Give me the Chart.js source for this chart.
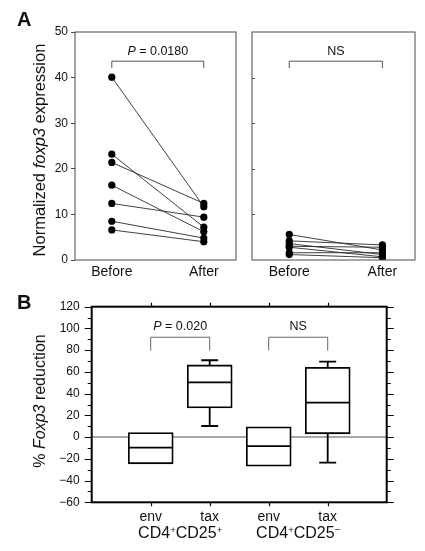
<!DOCTYPE html>
<html>
<head>
<meta charset="utf-8">
<script src="https://cdn.jsdelivr.net/npm/chart.js@4.4.1/dist/chart.umd.min.js"></script>
<style>
  body { margin: 0; background: #fff; width: 425px; height: 551px; position: relative; overflow: hidden;
         font-family: "Liberation Sans", Arial, Helvetica, sans-serif; color: #111; }
  canvas { position: absolute; }
  .lbl { position: absolute; white-space: nowrap; line-height: 1; transform: translate(-50%, -50%); }
  .vt { position: absolute; white-space: nowrap; line-height: 1; transform: translate(-50%, -50%) rotate(-90deg); }
  .panel { position: absolute; font-weight: bold; font-size: 20px; line-height: 1; }
  sup { font-size: 60%; vertical-align: 0.55em; line-height: 0; }
</style>
</head>
<body>
<canvas id="a1" width="240" height="290" style="left:0;top:0"></canvas>
<canvas id="a2" width="185" height="290" style="left:240px;top:0"></canvas>
<canvas id="b" width="425" height="271" style="left:0;top:280px"></canvas>

<div class="panel" style="left:17px;top:9px">A</div>
<div class="panel" style="left:17px;top:292px">B</div>
<div class="vt" style="left:39px;top:150px;font-size:16.5px">Normalized <i>foxp3</i> expression</div>
<div class="vt" style="left:40px;top:401px;font-size:16px">% <i>Foxp3</i> reduction</div>
<div class="lbl" id="pA1" style="font-size:12.5px"></div>
<div class="lbl" id="pA2" style="font-size:12.5px"></div>
<div class="lbl" id="pB1" style="font-size:12.5px"></div>
<div class="lbl" id="pB2" style="font-size:12.5px"></div>
<div class="lbl" id="cell1" style="font-size:16px"></div>
<div class="lbl" id="cell2" style="font-size:16px"></div>

<script>
// panel A: normalized foxp3 expression, paired before / after
const timeLabels = ['Before', 'After'];
const exprTicks = [0, 10, 20, 30, 40, 50];
const leftBefore = [40.1, 23.2, 21.4, 16.4, 12.4, 8.5, 6.6];
const leftAfter = [11.7, 7.2, 12.4, 6.2, 9.4, 4.8, 4.0];
const rightBefore = [5.6, 4.2, 3.6, 3.0, 2.8, 1.6, 1.2];
const rightAfter = [2.2, 3.3, 1.2, 2.8, 0.7, 1.6, 0.5];
const bracketA = [43.6, 42.1];           // top, leg end
const statsA = ['0.0180', 'NS'];

// panel B: % Foxp3 reduction, box plots
const boxCats = ['env', 'tax', 'env', 'tax'];
const cellTypes = [['CD4', '+', 'CD25', '+'], ['CD4', '+', 'CD25', '\u2212']];
const boxLow = [null, 10.2, null, -23.4];
const boxQ1 = [-24.6, 26.8, -26.8, 3.0];
const boxMed = [-9.6, 50.4, -8.3, 31.7];
const boxQ3 = [4.2, 66.4, 9.5, 64.2];
const boxHigh = [null, 70.7, null, 69.5];
const bracketB = [91.9, 79.6];
const statsB = ['0.020', 'NS'];

const FONT = '"Liberation Sans", Arial, Helvetica, sans-serif';

function statHtml(s) {
  return s === 'NS' ? 'NS' : '<i>P</i> = ' + s;
}

// draw a border round the plot area
const frame = {
  id: 'frame',
  afterDraw(chart, args, opts) {
    const { ctx, chartArea: a } = chart;
    ctx.save();
    ctx.strokeStyle = opts.color;
    ctx.lineWidth = opts.width;
    ctx.strokeRect(a.left, a.top, a.right - a.left, a.bottom - a.top);
    ctx.restore();
  }
};

// significance bracket + its text label (html)
const bracket = {
  id: 'bracket',
  afterDatasetsDraw(chart, args, opts) {
    const { ctx, scales: { x, y } } = chart;
    const yTop = y.getPixelForValue(opts.top);
    const yLeg = y.getPixelForValue(opts.leg);
    const off = chart.canvas.getBoundingClientRect();
    ctx.save();
    ctx.strokeStyle = opts.color;
    ctx.lineWidth = 1;
    opts.pairs.forEach((p, i) => {
      const x1 = x.getPixelForValue(p[0]);
      const x2 = x.getPixelForValue(p[1]);
      ctx.beginPath();
      ctx.moveTo(x1, yLeg);
      ctx.lineTo(x1, yTop);
      ctx.lineTo(x2, yTop);
      ctx.lineTo(x2, yLeg);
      ctx.stroke();
      const el = document.getElementById(opts.ids[i]);
      el.innerHTML = statHtml(opts.texts[i]);
      el.style.left = (off.left + (x1 + x2) / 2) + 'px';
      el.style.top = (off.top + yTop - opts.gap) + 'px';
    });
    ctx.restore();
  }
};

// short ticks pointing into the plot (right panel of A)
const innerTicks = {
  id: 'innerTicks',
  afterDraw(chart, args, opts) {
    const { ctx, chartArea: a, scales: { y } } = chart;
    ctx.save();
    ctx.strokeStyle = opts.color;
    ctx.lineWidth = 1;
    opts.values.forEach(v => {
      const py = Math.round(y.getPixelForValue(v)) + 0.5;
      ctx.beginPath();
      ctx.moveTo(a.left, py);
      ctx.lineTo(a.left + opts.len, py);
      ctx.stroke();
    });
    ctx.restore();
  }
};

function pairedSets(before, after) {
  return before.map((b, i) => ({
    data: [{ x: 1, y: b }, { x: 2, y: after[i] }],
    showLine: true,
    borderColor: '#2a2a2a',
    borderWidth: 0.9,
    pointRadius: 3.6,
    pointBackgroundColor: '#000',
    pointBorderWidth: 0
  }));
}

function pairedChart(id, before, after, showY, pad, statIdx) {
  return new Chart(document.getElementById(id), {
    type: 'scatter',
    data: { datasets: pairedSets(before, after) },
    options: {
      responsive: false,
      animation: false,
      layout: { padding: pad },
      plugins: {
        legend: { display: false },
        tooltip: { enabled: false },
        frame: { color: '#4a4a4a', width: 1 },
        bracket: { pairs: [[1, 2]], top: bracketA[0], leg: bracketA[1], color: '#555',
                   ids: [statIdx === 0 ? 'pA1' : 'pA2'], texts: [statsA[statIdx]], gap: 10 },
        innerTicks: { values: exprTicks.slice(1, -1), len: 3, color: '#555' }
      },
      scales: {
        x: {
          type: 'linear', min: 0.6, max: 2.35,
          afterBuildTicks: s => { s.ticks = [{ value: 1 }, { value: 2 }]; },
          afterFit: s => { s.height = 30; },
          ticks: { callback: v => timeLabels[v - 1], font: { family: FONT, size: 14 }, color: '#111',
                   padding: 4, maxRotation: 0, autoSkip: false },
          grid: { display: false, drawTicks: false },
          border: { display: false }
        },
        y: {
          min: 0, max: 50, display: showY,
          afterBuildTicks: s => { s.ticks = exprTicks.map(v => ({ value: v })); },
          afterFit: s => { s.width = showY ? 75 : 0; },
          ticks: { font: { family: FONT, size: 12 }, color: '#111', padding: 3 },
          grid: { drawOnChartArea: false, tickLength: 4, color: '#4a4a4a' },
          border: { display: false }
        }
      }
    },
    plugins: showY ? [frame, bracket] : [frame, bracket, innerTicks]
  });
}

pairedChart('a1', leftBefore, leftAfter, true, { top: 32, right: 2, left: 0, bottom: 0 }, 0);
pairedChart('a2', rightBefore, rightAfter, false, { top: 32, right: 10, left: 12, bottom: 0 }, 1);

// ---- panel B ----
const boxParts = {
  id: 'boxParts',
  beforeDatasetsDraw(chart) {
    // gray zero line behind the boxes
    const { ctx, chartArea: a, scales: { y } } = chart;
    const y0 = y.getPixelForValue(0);
    ctx.save();
    ctx.strokeStyle = '#8a8a8a';
    ctx.lineWidth = 1.5;
    ctx.beginPath();
    ctx.moveTo(a.left, y0);
    ctx.lineTo(a.right, y0);
    ctx.stroke();
    ctx.restore();
  },
  afterDatasetsDraw(chart, args, opts) {
    const { ctx, scales: { x, y } } = chart;
    const half = opts.boxWidth / 2;
    ctx.save();
    ctx.strokeStyle = '#000';
    ctx.lineWidth = 1.8;
    boxMed.forEach((m, i) => {
      const cx = x.getPixelForValue(i + 1);
      const ym = y.getPixelForValue(m);
      ctx.beginPath();
      ctx.moveTo(cx - half, ym);
      ctx.lineTo(cx + half, ym);
      ctx.stroke();
      [[boxHigh[i], boxQ3[i]], [boxLow[i], boxQ1[i]]].forEach(([end, edge]) => {
        if (end === null) return;
        const ye = y.getPixelForValue(end);
        ctx.beginPath();
        ctx.moveTo(cx, y.getPixelForValue(edge));
        ctx.lineTo(cx, ye);
        ctx.moveTo(cx - opts.capWidth / 2, ye);
        ctx.lineTo(cx + opts.capWidth / 2, ye);
        ctx.stroke();
      });
    });
    ctx.restore();
  }
};

// tick marks on all four sides of the box plot frame
const boxTicks = {
  id: 'boxTicks',
  afterDraw(chart, args, opts) {
    const { ctx, chartArea: a, scales: { x, y } } = chart;
    ctx.save();
    ctx.strokeStyle = '#000';
    ctx.lineWidth = 1.2;
    ctx.beginPath();
    for (let v = y.min; v <= y.max; v += 10) {
      const py = Math.round(y.getPixelForValue(v)) + 0.5;
      const len = v % 20 === 0 ? opts.major : opts.minor;
      ctx.moveTo(a.left - len, py); ctx.lineTo(a.left, py);
      ctx.moveTo(a.right, py); ctx.lineTo(a.right + len, py);
    }
    boxCats.forEach((c, i) => {
      const px = Math.round(x.getPixelForValue(i + 1)) + 0.5;
      ctx.moveTo(px, a.top - opts.minor); ctx.lineTo(px, a.top);
      ctx.moveTo(px, a.bottom); ctx.lineTo(px, a.bottom + opts.minor);
    });
    ctx.stroke();
    ctx.restore();
    // cell type labels under each pair
    const off = chart.canvas.getBoundingClientRect();
    cellTypes.forEach((t, i) => {
      const el = document.getElementById('cell' + (i + 1));
      el.innerHTML = t[0] + '<sup>' + t[1] + '</sup>' + t[2] + '<sup>' + t[3] + '</sup>';
      el.style.left = (off.left + (x.getPixelForValue(2 * i + 1) + x.getPixelForValue(2 * i + 2)) / 2) + 'px';
      el.style.top = (off.top + a.bottom + opts.cellGap) + 'px';
    });
  }
};

new Chart(document.getElementById('b'), {
  type: 'bar',
  data: {
    datasets: [{
      data: boxQ1.map((q, i) => ({ x: i + 1, y: [q, boxQ3[i]] })),
      backgroundColor: '#fff',
      borderColor: '#000',
      borderWidth: 1.8,
      borderSkipped: false,
      barThickness: 45
    }]
  },
  options: {
    responsive: false,
    animation: false,
    layout: { padding: { top: 26.7, right: 38.3, left: 0, bottom: 0 } },
    plugins: {
      legend: { display: false },
      tooltip: { enabled: false },
      frame: { color: '#000', width: 2 },
      bracket: { pairs: [[1, 2], [3, 4]], top: bracketB[0], leg: bracketB[1], color: '#666',
                 ids: ['pB1', 'pB2'], texts: statsB, gap: 11 },
      boxParts: { boxWidth: 45, capWidth: 17 },
      boxTicks: { major: 7, minor: 4, cellGap: 31 }
    },
    scales: {
      x: {
        type: 'linear', min: 0, max: 5, offset: false,
        afterBuildTicks: s => { s.ticks = boxCats.map((c, i) => ({ value: i + 1 })); },
        afterFit: s => { s.height = 48.7; },
        ticks: { callback: v => boxCats[v - 1], font: { family: FONT, size: 14 }, color: '#111',
                 padding: 6, maxRotation: 0, autoSkip: false },
        grid: { display: false, drawTicks: false },
        border: { display: false }
      },
      y: {
        min: -60, max: 120,
        afterFit: s => { s.width = 91.7; },
        ticks: { stepSize: 20, callback: v => String(v).replace('-', '\u2212'),
                 font: { family: FONT, size: 12 }, color: '#111', padding: 4 },
        grid: { drawOnChartArea: false, tickLength: 8, color: 'rgba(0,0,0,0)' },
        border: { display: false }
      }
    }
  },
  plugins: [frame, bracket, boxParts, boxTicks]
});
</script>
</body>
</html>
